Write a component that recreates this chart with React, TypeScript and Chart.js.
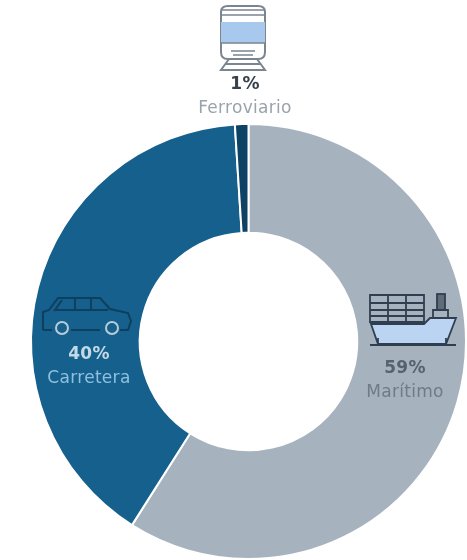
import React, { useEffect, useRef } from "react";
import { Chart, registerables } from "chart.js";

Chart.register(...registerables);

const categories = ["Marítimo", "Carretera", "Ferroviario"];
const shares = [59, 40, 1];
const sliceColors = ["#A6B3BF", "#15608C", "#0E4265"];

const font = '"DejaVu Sans", sans-serif';

function Label({ x, y, pct, name, pctColor, nameColor }: { x: number; y: number; pct: string; name: string; pctColor: string; nameColor: string }) {
  return (
    <div style={{ position: "absolute", left: x - 80, top: y, width: 160, textAlign: "center", fontFamily: font, fontSize: 17, letterSpacing: 0.3, lineHeight: "24px" }}>
      <div style={{ color: pctColor, fontWeight: 700 }}>{pct}</div>
      <div style={{ color: nameColor }}>{name}</div>
    </div>
  );
}

export default function App() {
  const ref = useRef<HTMLCanvasElement>(null);
  useEffect(() => {
    document.body.style.margin = "0";
    const chart = new Chart(ref.current!, {
      type: "doughnut",
      data: {
        labels: categories,
        datasets: [{ data: shares, backgroundColor: sliceColors, borderColor: "#ffffff", borderWidth: 2 }],
      },
      options: {
        responsive: false,
        animation: false,
        cutout: "50%",
        layout: { padding: { left: 30, right: 0, top: 123, bottom: 0 } },
        plugins: { legend: { display: false }, tooltip: { enabled: false } },
      },
    });
    return () => chart.destroy();
  }, []);
  return (
    <div style={{ position: "relative", width: 467, height: 560, overflow: "hidden", background: "#fff" }}>
      <canvas ref={ref} width={467} height={560} style={{ position: "absolute", left: 0, top: 0 }} />

      {/* train icon */}
      <svg style={{ position: "absolute", left: 214, top: 4 }} width={56} height={68} viewBox="0 0 56 68" fill="none" stroke="#7A8590" strokeWidth={2}>
        <path d="M7 8 Q7 2 14 2 H44 Q51 2 51 8 V48 Q51 55 44 55 H14 Q7 55 7 48 Z" fill="#fff" />
        <rect x={7} y={18} width={44} height={21} fill="#A9C8EE" stroke="none" />
        <path d="M7 6 H51 M7 11 H51 M7 39 H51" strokeWidth={1.5} />
        <path d="M17 47 H41 M19 51 H39" strokeWidth={1.5} />
        <path d="M15 55 L7 66 H51 L43 55 M11 60 H47" />
      </svg>

      {/* car icon */}
      <svg style={{ position: "absolute", left: 38, top: 294 }} width={96} height={46} viewBox="0 0 96 46" fill="none" stroke="#0F3F5F" strokeWidth={2}>
        <path d="M5 36 V18 L11 16 L20 4 H62 L72 15 L90 19 L93 27 L90 36 H82 M62 36 H33 M14 36 H5" />
        <path d="M24 6 L17 16 H70 M37 5 V16 M53 5 V16" />
        <circle cx={24} cy={34} r={6} stroke="#B9CCD8" />
        <circle cx={74} cy={34} r={6} stroke="#B9CCD8" />
      </svg>

      {/* ship icon */}
      <svg style={{ position: "absolute", left: 364, top: 290 }} width={98} height={58} viewBox="0 0 98 58" fill="none" stroke="#2F3F50" strokeWidth={1.8}>
        <path d="M7 34 L14 54 H82 L92 28 L66 28 L60 34 Z" fill="#BBD4F2" />
        <path d="M6 5 H60 V32 H6 Z M6 13 H60 M6 20 H60 M6 26 H60 M24 5 V32 M42 5 V32" />
        <rect x={73} y={4} width={8} height={16} fill="#5F6C78" />
        <path d="M69 28 V20 H84 V28 M14 48 V55 M82 48 V55 M6 55 H92" />
      </svg>

      <Label x={245} y={71} pct="1%" name="Ferroviario" pctColor="#36414C" nameColor="#9AA3AB" />
      <Label x={89} y={341} pct="40%" name="Carretera" pctColor="#C4D9E6" nameColor="#8FC0DF" />
      <Label x={405} y={355} pct="59%" name="Marítimo" pctColor="#56626E" nameColor="#6F7B86" />
    </div>
  );
}
